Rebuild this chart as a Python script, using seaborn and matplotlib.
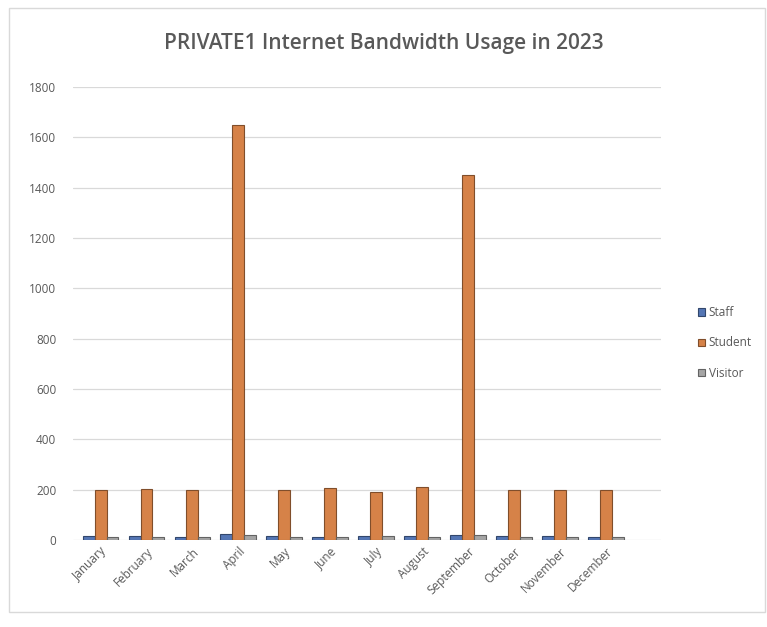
import numpy as np
import pandas as pd

import matplotlib
matplotlib.use('Agg')
import matplotlib.pyplot as plt
import seaborn as sns

months = ["January", "February", "March", "April", "May", "June",
          "July", "August", "September", "October", "November", "December"]
staff = [15, 14, 13, 25, 15, 13, 16, 14, 20, 14, 15, 13]
student = [200, 202, 198, 1650, 198, 205, 190, 210, 1450, 200, 200, 197]
visitor = [12, 11, 12, 20, 12, 10, 14, 12, 20, 11, 12, 10]

data = pd.DataFrame({"month": months, "Staff": staff,
                     "Student": student, "Visitor": visitor})
data = data.melt(id_vars=["month"], var_name="series", value_name="usage")

sns.set_style("white")
plt.rcParams['font.family'] = ['Open Sans', 'DejaVu Sans']

fig = plt.figure(figsize=(7.67, 6.27), dpi=100)
# axes spans x 73..661 px, y 87..540 px
ax = fig.add_axes([73 / 767, 87 / 627, 588 / 767, 453 / 627])

sns.barplot(data=data, x="month", y="usage", hue="series",
            palette=["#4472C4", "#ED7D31", "#A5A5A5"],
            width=0.78, linewidth=0.8, ax=ax)
for bar in ax.patches:
    fc = bar.get_facecolor()
    bar.set_edgecolor(tuple(c * 0.6 for c in fc[:3]))

ax.set_xlim(-0.6, 12.2)
ax.set_ylim(0, 1800)
ax.set_yticks(range(0, 1801, 200))
ax.yaxis.grid(True, color="#d9d9d9", linewidth=0.9)
ax.set_axisbelow(True)
for s in ax.spines.values():
    s.set_visible(False)
ax.tick_params(axis="both", colors="#595959", labelsize=8.5, length=0)
ax.tick_params(axis="y", pad=12)
plt.setp(ax.get_xticklabels(), rotation=45, ha="right", rotation_mode="anchor")
ax.set_xlabel("")
ax.set_ylabel("")

ax.legend(loc="center left", bbox_to_anchor=(1.045, 0.435), frameon=False,
          fontsize=8.5, labelcolor="#595959", handlelength=0.6,
          handleheight=0.6, labelspacing=1.45, handletextpad=0.3)

fig.text(0.5, 1 - 43 / 627, "PRIVATE1 Internet Bandwidth Usage in 2023",
         ha="center", va="center", fontsize=15, fontweight="semibold",
         color="#595959")

border = matplotlib.patches.Rectangle((9 / 767, 15 / 627), 756 / 767, 604 / 627,
                                      transform=fig.transFigure, fill=False,
                                      edgecolor="#d9d9d9", linewidth=1)
fig.patches.append(border)

plt.savefig("out.png", dpi=100)
plt.close()
